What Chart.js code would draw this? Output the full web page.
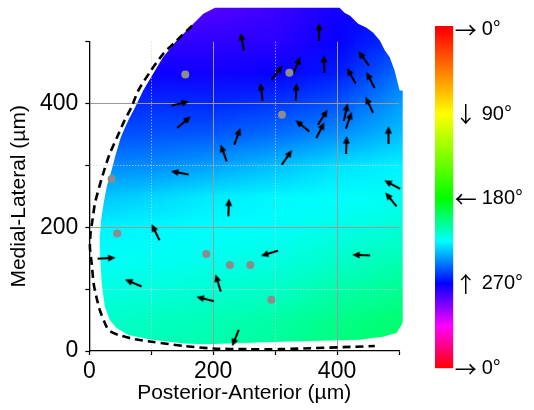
<!DOCTYPE html>
<html>
<head>
<meta charset="utf-8">
<script src="https://cdn.jsdelivr.net/npm/chart.js@4.4.1/dist/chart.umd.min.js"></script>
<style>
  html, body { margin: 0; padding: 0; background: #fff; }
  #wrap { position: relative; width: 534px; height: 410px; }
  #wrap canvas { position: absolute; left: 0; top: 0; }
</style>
</head>
<body>
<div id="wrap">
  <canvas id="mapChart" width="534" height="410"></canvas>
  <canvas id="barChart" width="534" height="410"></canvas>
</div>
<script>
// --- Data (µm, angles in degrees: 0 = right, 90 = down, 180 = left, 270 = up) ---

// arrows: centre position and direction
const arrowX = [361, 371, 247, 379, 335, 303, 278, 334, 443, 423, 454, 452, 344, 377, 373, 414, 419, 415,
                483, 319, 147, 153, 217, 239, 146, 225, 107, 28, 71, 208, 187, 236, 291, 489, 487, 439];
const arrowY = [537, 516, 500, 464, 462, 450, 419, 419, 473, 445, 438, 398, 364, 378, 357, 386, 373, 333,
                349, 313, 400, 370, 320, 347, 288, 232, 192, 150, 110, 110, 84, 21, 158, 269, 245, 155];
const arrowAngle = [212, 270, 259, 268, 292, 308, 263, 273, 234, 241, 243, 245, 219, 303, 297, 282, 289, 272,
                    270, 305, 347, 320, 250, 290, 191, 272, 244, 357, 203, 253, 194, 112, 163, 208, 231, 182];

// grey points
const dotX = [155, 323, 311, 36, 45, 189, 227, 260, 294];
const dotY = [447, 450, 382, 278, 190, 157, 139, 139, 83];

// dashed outline
const outlineX = [166, 141, 119, 98, 79, 68, 57, 45, 33, 24, 16, 9, 5, 2, 1, 4, 7, 12, 17, 24, 31, 47, 74, 101, 154, 200, 254, 308, 461];
const outlineY = [526, 502, 480, 451, 421, 394, 373, 346, 319, 292, 265, 238, 211, 190, 168, 140, 109, 85, 66, 48, 34, 26, 19, 15, 8, 4, 3, 3, 8];

// edge of the coloured map
const maskX = [203, 404, 412, 421, 434, 447, 458, 469, 477, 485, 493, 501, 506, 506, 504, 496, 474, 437, 308, 187,
               154, 101, 63, 44, 33, 25, 20, 17, 17, 19, 23, 28, 36, 43, 51, 63, 74, 87, 103, 119, 141, 162, 184];
const maskY = [555, 555, 547, 542, 529, 523, 515, 502, 486, 475, 453, 421, 421, 47, 42, 29, 23, 18, 15, 11,
               12, 18, 26, 37, 50, 72, 109, 163, 184, 211, 238, 265, 292, 319, 346, 373, 394, 421, 448, 475, 502, 523, 545];

// map angle grid (rows from top y=550 down to y=0, columns x=0..500)
const fieldX = [0, 100, 200, 300, 400, 500];
const fieldY = [550, 500, 450, 400, 350, 300, 250, 200, 150, 100, 50, 0];
const fieldAngle = [
  [288, 286, 284, 280, 273, 268],
  [280, 278, 278, 277, 271, 260],
  [274, 272, 273, 271, 265, 250],
  [263, 262, 263, 260, 255, 242],
  [256, 255, 254, 250, 244, 236],
  [246, 245, 241, 236, 230, 227],
  [236, 232, 228, 226, 225, 223],
  [227, 226, 225, 224, 221, 218],
  [224, 223, 222, 220, 216, 212],
  [220, 219, 217, 215, 210, 206],
  [216, 214, 212, 209, 204, 200],
  [214, 212, 210, 207, 202, 198]
];

// colour bar
const barTicks = [0, 90, 180, 270, 360];
const barArrows = ['\u2192', '\u2193', '\u2190', '\u2191', '\u2192'];
const barLabels = ['0\u00b0', '90\u00b0', '180\u00b0', '270\u00b0', '0\u00b0'];

const FONT = "'Liberation Sans', Arial, sans-serif";

// --- Helpers ---
function angleColor(a) {
    a = ((a % 360) + 360) % 360;
    const h = a <= 180 ? a * 2 / 3 : 120 + (a - 180) * 4 / 3;
    return `hsl(${h}, 100%, 50%)`;
}

// small image with one pixel per grid value
const fieldImage = document.createElement('canvas');
fieldImage.width = fieldX.length;
fieldImage.height = fieldY.length;
(() => {
    const c = fieldImage.getContext('2d');
    fieldAngle.forEach((row, r) => {
        row.forEach((a, i) => {
            c.fillStyle = angleColor(a);
            c.fillRect(i, r, 1, 1);
        });
    });
})();

// arrow glyph pointing right, rotated per point by Chart.js
const arrowImage = document.createElement('canvas');
arrowImage.width = 18;
arrowImage.height = 8;
(() => {
    const c = arrowImage.getContext('2d');
    c.strokeStyle = '#000';
    c.fillStyle = '#000';
    c.lineWidth = 2.1;
    c.beginPath();
    c.moveTo(0, 4);
    c.lineTo(12, 4);
    c.stroke();
    c.beginPath();
    c.moveTo(10.5, 0.6);
    c.lineTo(18, 4);
    c.lineTo(10.5, 7.4);
    c.closePath();
    c.fill();
})();

const fieldPlugin = {
    id: 'field',
    beforeDraw(chart) {
        const { ctx, scales: { x, y } } = chart;
        ctx.save();
        ctx.beginPath();
        maskX.forEach((mx, i) => {
            const px = x.getPixelForValue(mx);
            const py = y.getPixelForValue(maskY[i]);
            if (i === 0) ctx.moveTo(px, py); else ctx.lineTo(px, py);
        });
        ctx.closePath();
        ctx.clip();
        const stepX = fieldX[1] - fieldX[0];
        const stepY = fieldY[0] - fieldY[1];
        const left = x.getPixelForValue(fieldX[0] - stepX / 2);
        const right = x.getPixelForValue(fieldX[fieldX.length - 1] + stepX / 2);
        const top = y.getPixelForValue(fieldY[0] + stepY / 2);
        const bottom = y.getPixelForValue(fieldY[fieldY.length - 1] - stepY / 2);
        ctx.imageSmoothingEnabled = true;
        ctx.drawImage(fieldImage, left, top, right - left, bottom - top);
        ctx.restore();
    }
};

function gridColor(ctx) {
    const v = ctx.tick ? ctx.tick.value : 0;
    if (v === 0 || v === 500) return 'rgba(0,0,0,0)';
    return v % 200 === 0 ? '#9a9a9a' : '#d4d4d4';
}
function gridDash(ctx) {
    const v = ctx.tick ? ctx.tick.value : 0;
    return (v % 200 === 0) ? [] : [1, 2];
}

function axisOptions(title, isX) {
    return {
        type: 'linear',
        min: 0,
        max: 500,
        ticks: {
            stepSize: 100,
            autoSkip: false,
            maxRotation: 0,
            padding: isX ? 3 : 7,
            color: '#000',
            font: { family: FONT, size: 23 },
            callback: v => (v % 200 === 0 ? String(v) : '')
        },
        grid: {
            color: gridColor,
            lineWidth: 1,
            tickColor: '#000',
            tickLength: 4,
            tickWidth: 1.2
        },
        border: { color: '#000', width: 1.3, dash: gridDash },
        title: {
            display: true,
            text: title,
            color: '#000',
            font: { family: FONT, size: 21 },
            padding: isX ? { top: 0, bottom: 4 } : { top: 6.5, bottom: 0 }
        },
        afterFit: isX ? (s => { s.height = 59; }) : (s => { s.width = 89.3; })
    };
}

// --- Main map ---
new Chart(document.getElementById('mapChart'), {
    type: 'scatter',
    data: {
        datasets: [
            {
                label: 'outline',
                data: outlineX.map((v, i) => ({ x: v, y: outlineY[i] })),
                showLine: true,
                borderColor: '#000',
                borderWidth: 2.6,
                borderDash: [8, 5],
                tension: 0.25,
                pointRadius: 0,
                clip: false
            },
            {
                label: 'points',
                data: dotX.map((v, i) => ({ x: v, y: dotY[i] })),
                pointRadius: 4,
                backgroundColor: '#8c8c8c',
                borderWidth: 0,
                clip: false
            },
            {
                label: 'arrows',
                data: arrowX.map((v, i) => ({ x: v, y: arrowY[i] })),
                pointStyle: arrowImage,
                rotation: arrowAngle,
                pointRadius: 9,
                clip: false
            }
        ]
    },
    options: {
        responsive: false,
        animation: false,
        layout: { padding: { left: 0, right: 135, top: 41.7, bottom: 0 } },
        plugins: { legend: { display: false }, tooltip: { enabled: false } },
        scales: {
            x: axisOptions('Posterior-Anterior (\u00b5m)', true),
            y: axisOptions('Medial-Lateral (\u00b5m)', false)
        }
    },
    plugins: [fieldPlugin]
});

// --- Colour bar ---
function barAxis(weight, width, padding, font, labels) {
    return {
        position: 'right',
        weight: weight,
        reverse: true,
        min: -3.5,
        max: 360,
        afterBuildTicks: s => { s.ticks = barTicks.map(v => ({ value: v })); },
        afterFit: s => { s.width = width; },
        grid: { display: false, drawTicks: false },
        border: { display: false },
        ticks: {
            padding: padding,
            color: '#000',
            font: font,
            callback: (v) => labels[barTicks.indexOf(v)]
        }
    };
}

new Chart(document.getElementById('barChart'), {
    type: 'bar',
    data: {
        labels: [''],
        datasets: [{
            data: [[-3.5, 360]],
            yAxisID: 'y',
            borderWidth: 0,
            barPercentage: 1,
            categoryPercentage: 1,
            backgroundColor: (ctx) => {
                const chart = ctx.chart;
                if (!chart.chartArea) return '#fff';
                const y = chart.scales.y;
                const g = chart.ctx.createLinearGradient(0, y.getPixelForValue(0), 0, y.getPixelForValue(360));
                for (let a = 0; a <= 360; a += 15) g.addColorStop(a / 360, angleColor(a));
                return g;
            }
        }]
    },
    options: {
        responsive: false,
        animation: false,
        layout: { padding: { left: 435, right: 0, top: 26, bottom: 41.7 } },
        plugins: { legend: { display: false }, tooltip: { enabled: false } },
        scales: {
            x: { display: false },
            y: barAxis(0, 27, 1.5, { family: "'Noto Sans CJK JP', sans-serif", size: 22 }, barArrows),
            yLabel: barAxis(1, 53.7, 1.4, { family: FONT, size: 20 }, barLabels)
        }
    }
});
</script>
</body>
</html>
